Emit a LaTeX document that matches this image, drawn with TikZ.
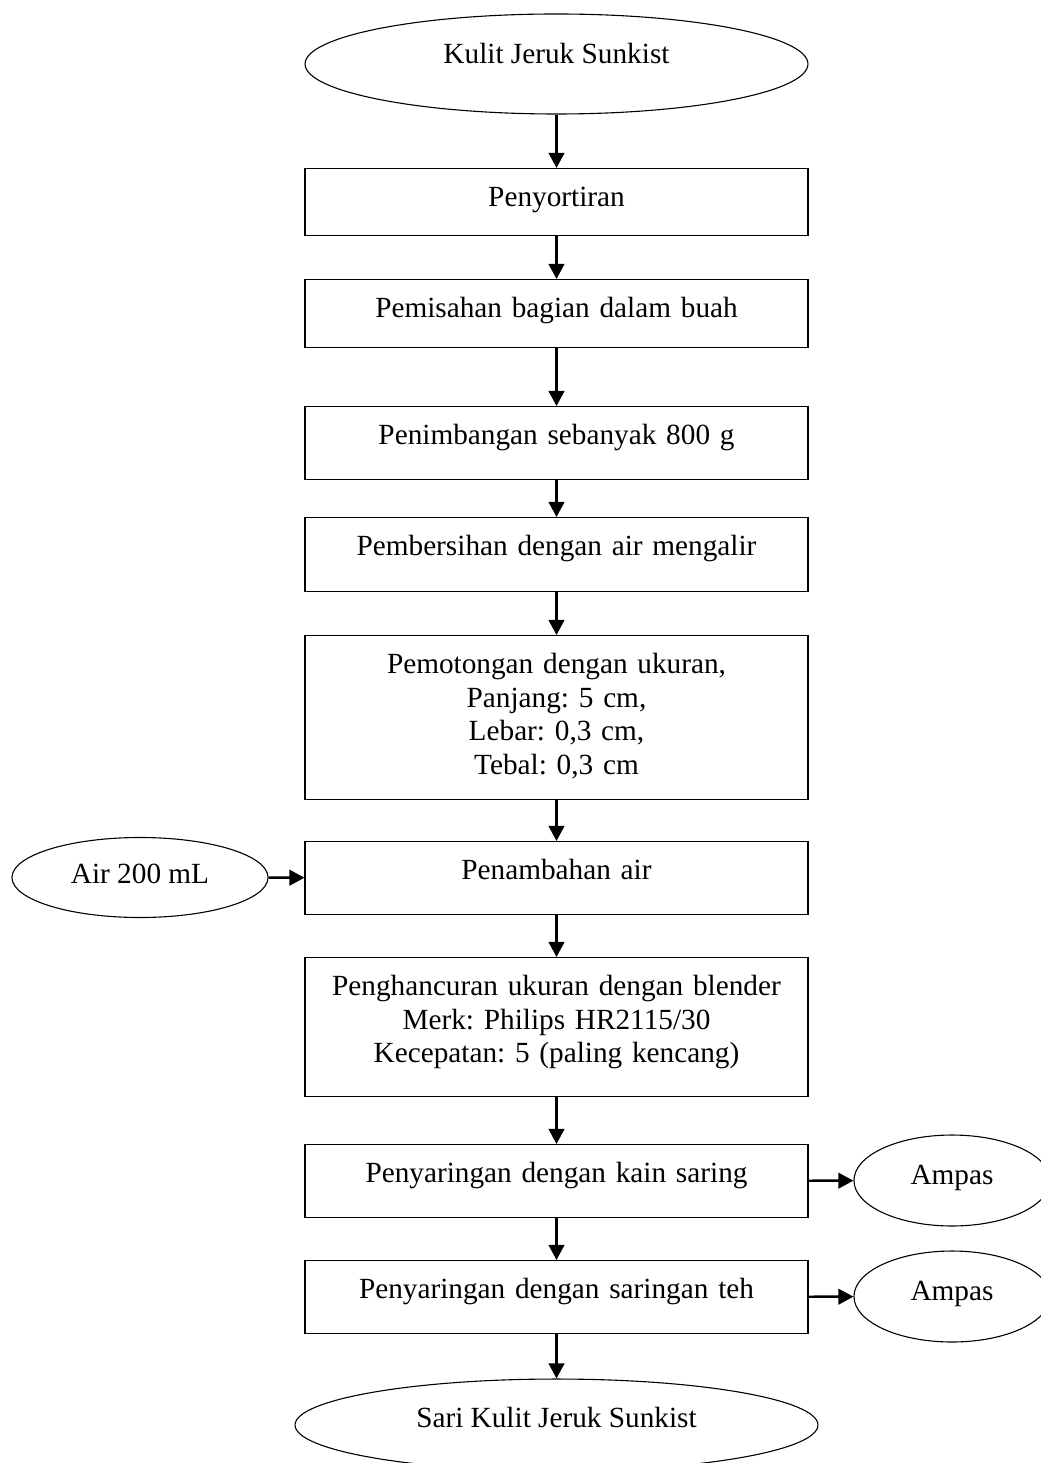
\documentclass[tikz,border=0pt]{standalone}
\usepackage{fontspec}
\setmainfont{Liberation Serif}
\usepackage{tikz}
\usetikzlibrary{positioning}
\usetikzlibrary{arrows.meta,shapes}
\usetikzlibrary{calc}
\frenchspacing

\tikzset{
  stepbox/.style={draw, line width=0.45pt, anchor=north, text width=200pt, inner xsep=3.1pt, inner ysep=0pt, align=center, text height=15.6pt},
  endbox/.style={draw, ellipse, line width=0.45pt, inner sep=0pt, align=center},
  flow/.style={-{Triangle[length=6.2pt,width=6.4pt]}, line width=1pt}
}

\begin{document}
\begin{tikzpicture}[x=0.41pt, y=-0.41pt, font=\fontsize{12pt}{13.8pt}\selectfont]

	\useasboundingbox (0,0) rectangle (1040,1463);

	\node[endbox, minimum width=206.2pt, minimum height=41pt, text height=4pt, text depth=4pt] (kulit) at (556.5,64) {Kulit Jeruk Sunkist};

	\node[stepbox, text depth=11.9pt] (b1) at (556.5,168) {Penyortiran};
	\node[stepbox, text depth=12.3pt] (b2) at (556.5,279) {Pemisahan bagian dalam buah};
	\node[stepbox, text depth=14.35pt] (b3) at (556.5,406) {Penimbangan sebanyak 800 g};
	\node[stepbox, text depth=14.8pt] (b4) at (556.5,517) {Pembersihan dengan air mengalir};
	\node[stepbox, text depth=51.7pt] (b5) at (556.5,635) {Pemotongan dengan ukuran,\\ Panjang: 5 cm,\\ Lebar: 0,3 cm,\\ Tebal: 0,3 cm};
	\node[stepbox, text depth=14.35pt] (b6) at (556.5,841) {Penambahan air};
	\node[stepbox, text depth=41.4pt] (b7) at (556.5,957) {Penghancuran ukuran dengan blender\\ Merk: Philips HR2115/30\\ Kecepatan: 5 (paling kencang)};
	\node[stepbox, text depth=14.35pt] (b8) at (556.5,1144) {Penyaringan dengan kain saring};
	\node[stepbox, text depth=14.35pt] (b9) at (556.5,1260) {Penyaringan dengan saringan teh};

	\node[endbox, minimum width=214.4pt, minimum height=37.7pt, text height=5pt, text depth=2.6pt] (sari) at (556.5,1425) {Sari Kulit Jeruk Sunkist};

	\node[endbox, minimum width=105pt, minimum height=32.8pt, text height=6pt, text depth=1.4pt] (air) at (140,877.5) {Air 200 mL};
	\node[endbox, minimum width=80.4pt, minimum height=37.3pt, text height=5pt, text depth=1.8pt] (amp1) at (952,1180.5) {Ampas};
	\node[endbox, minimum width=80.4pt, minimum height=37.3pt, text height=5pt, text depth=1.8pt] (amp2) at (952,1296.5) {Ampas};

	\foreach \from/\to in {kulit/b1, b1/b2, b2/b3, b3/b4, b4/b5, b5/b6, b6/b7, b7/b8, b8/b9, b9/sari} {
		\draw[flow] (\from) -- (\to);
	}
	\draw[flow] (air) -- (b6);
	\draw[flow] (b8) -- (amp1);
	\draw[flow] (b9) -- (amp2);

\end{tikzpicture}
\end{document}
